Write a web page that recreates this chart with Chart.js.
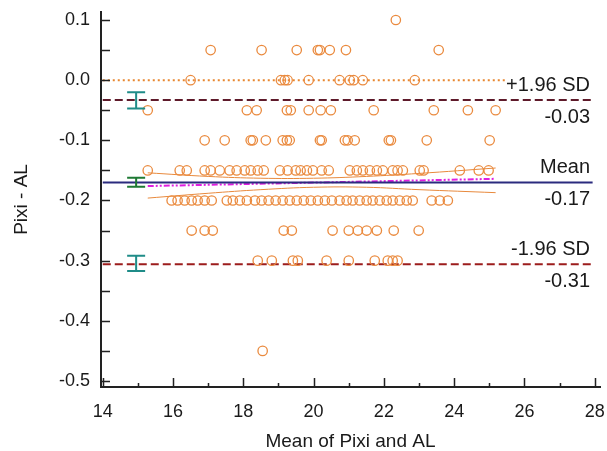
<!DOCTYPE html>
<html>
<head>
<meta charset="utf-8">
<script src="https://cdn.jsdelivr.net/npm/chart.js@4"></script>
<style>
  body { margin: 0; background: #fff; }
  #wrap { width: 607px; height: 451px; }
</style>
</head>
<body>
<div id="wrap"><canvas id="myChart" width="607" height="451"></canvas></div>
<script>
// Bland-Altman : Pixi vs AL

// differences (Pixi - AL) are on fixed steps, means listed per step
const diffLevels = [0.1, 0.05, 0, -0.05, -0.1, -0.15, -0.2, -0.25, -0.3, -0.45];
const meansP010 = [22.34];
const meansP005 = [17.07, 18.52, 19.52, 20.12, 20.18, 20.46, 20.92, 23.56];
const means000 = [16.5, 19.07, 19.18, 19.26, 19.86, 20.74, 21.03, 21.14, 21.4, 22.88];
const meansM005 = [15.28, 18.1, 18.38, 19.24, 19.35, 19.86, 20.2, 20.49, 21.71, 23.42, 24.39, 25.18];
const meansM010 = [16.9, 17.47, 18.21, 18.27, 18.64, 19.12, 19.24, 19.32, 20.18, 20.23, 20.89, 20.97, 21.17, 22.14, 22.2, 23.22, 25.01];
const meansM015 = [15.28, 16.19, 16.39, 16.9, 17.07, 17.33, 17.61, 17.81, 18.04, 18.21, 18.41, 18.58, 19.04, 19.26, 19.49, 19.63, 19.81, 19.98, 20.23, 20.43, 21.03, 21.23, 21.4, 21.6, 21.8, 21.97, 22.25, 22.39, 22.54, 23.02, 23.13, 24.16, 24.7, 24.98];
const meansM020 = [15.96, 16.13, 16.33, 16.53, 16.7, 16.9, 17.1, 17.53, 17.7, 17.9, 18.1, 18.33, 18.52, 18.72, 18.92, 19.12, 19.32, 19.52, 19.72, 19.92, 20.12, 20.32, 20.52, 20.74, 20.94, 21.11, 21.31, 21.51, 21.68, 21.88, 22.08, 22.25, 22.45, 22.65, 22.82, 23.36, 23.59, 23.82];
const meansM025 = [16.53, 16.9, 17.13, 19.15, 19.38, 20.54, 21.0, 21.26, 21.51, 21.8, 22.28, 22.99];
const meansM030 = [18.41, 18.81, 19.41, 19.55, 20.37, 21.0, 21.74, 22.11, 22.25, 22.39];
const meansM045 = [18.55];
const meansByLevel = [meansP010, meansP005, means000, meansM005, meansM010, meansM015, meansM020, meansM025, meansM030, meansM045];

// limits of agreement
const meanDiff = -0.17;
const upperLoA = -0.033;
const lowerLoA = -0.306;
const linesX = [14, 27.94];
const zeroLineX = [14, 25.5];

// confidence intervals of the limits (drawn at x = ciX)
const ciX = 14.95;
const ciLow = [-0.047, -0.177, -0.317];
const ciHigh = [-0.02, -0.162, -0.292];

// regression of differences + its confidence band
const regX = [15.28, 25.18];
const regY = [-0.176, -0.164];
const bandX = [15.28, 17, 18.5, 20, 21.5, 23, 25.18];
const bandUpper = [-0.154, -0.16, -0.163, -0.163, -0.16, -0.155, -0.146];
const bandLower = [-0.196, -0.188, -0.182, -0.178, -0.178, -0.182, -0.187];

// ticks
const xTicks = [14, 16, 18, 20, 22, 24, 26, 28];
const yTicks = [-0.5, -0.4, -0.3, -0.2, -0.1, 0.0, 0.1];

const points = [];
diffLevels.forEach((d, i) => {
  meansByLevel[i].forEach((m) => points.push({ x: m, y: d }));
});

const pair = (xs, ys) => xs.map((x, i) => ({ x: x, y: ys[i] }));

const lineDs = (label, xs, ys, color, dash, width) => ({
  label: label,
  data: pair(xs, ys),
  showLine: true,
  borderColor: color,
  borderWidth: width,
  borderDash: dash,
  pointRadius: 0,
  fill: false,
});

// error bars, side labels and inward tick marks
const extras = {
  id: "extras",
  afterDatasetsDraw(chart) {
    const ctx = chart.ctx;
    const xs = chart.scales.x;
    const ys = chart.scales.y;
    const area = chart.chartArea;
    ctx.save();

    const ciColors = ["#1f8c88", "#1f7a34", "#1f8c88"];
    const cx = xs.getPixelForValue(ciX);
    ciLow.forEach((lo, i) => {
      const y1 = ys.getPixelForValue(lo);
      const y2 = ys.getPixelForValue(ciHigh[i]);
      ctx.strokeStyle = ciColors[i];
      ctx.lineWidth = 2;
      ctx.beginPath();
      ctx.moveTo(cx, y1);
      ctx.lineTo(cx, y2);
      ctx.moveTo(cx - 9, y1);
      ctx.lineTo(cx + 9, y1);
      ctx.moveTo(cx - 9, y2);
      ctx.lineTo(cx + 9, y2);
      ctx.stroke();
    });

    ctx.fillStyle = "#1a1a1a";
    ctx.font = "20px 'Liberation Sans', Arial, sans-serif";
    ctx.textAlign = "right";
    ctx.textBaseline = "middle";
    const tx = area.right - 10;
    const labels = [
      ["+1.96 SD", upperLoA],
      ["Mean", meanDiff],
      ["-1.96 SD", lowerLoA],
    ];
    labels.forEach(([txt, v]) => {
      const py = ys.getPixelForValue(v);
      ctx.fillText(txt, tx, py - 15);
      ctx.fillText(v.toFixed(2), tx, py + 17);
    });

    ctx.strokeStyle = "#222";
    ctx.lineWidth = 1.5;
    ctx.beginPath();
    for (let v = -0.5; v <= 0.1001; v += 0.05) {
      const py = Math.round(ys.getPixelForValue(v)) + 0.5;
      ctx.moveTo(area.left, py);
      ctx.lineTo(area.left + 9, py);
    }
    for (let v = 14; v <= 28; v += 1) {
      const px = Math.round(xs.getPixelForValue(v)) + 0.5;
      const len = v % 2 === 0 ? 9 : 4;
      ctx.moveTo(px, area.bottom);
      ctx.lineTo(px, area.bottom - len);
    }
    ctx.stroke();
    ctx.restore();
  },
};

const config = {
  type: "scatter",
  data: {
    datasets: [
      {
        label: "differences",
        data: points,
        pointStyle: "circle",
        pointRadius: 4.7,
        pointBorderWidth: 1.3,
        pointBorderColor: "#ea8a3e",
        pointBackgroundColor: "rgba(0,0,0,0)",
        showLine: false,
      },
      lineDs("zero", zeroLineX, [0, 0], "#e8862e", [2, 3], 2),
      lineDs("+1.96 SD", linesX, [upperLoA, upperLoA], "#5e1a2a", [8, 4], 2),
      lineDs("mean", linesX, [meanDiff, meanDiff], "#2b2b7e", [], 2),
      lineDs("-1.96 SD", linesX, [lowerLoA, lowerLoA], "#9c1c1c", [8, 4], 2),
      lineDs("regression", regX, regY, "#e01fe0", [6, 2, 2, 2, 2, 2], 2),
      Object.assign(lineDs("band up", bandX, bandUpper, "#e8893c", [], 1), { tension: 0.4 }),
      Object.assign(lineDs("band low", bandX, bandLower, "#e8893c", [], 1), { tension: 0.4 }),
    ],
  },
  options: {
    responsive: false,
    animation: false,
    devicePixelRatio: 1,
    layout: { padding: { top: 12, right: 7, left: 0, bottom: 0 } },
    plugins: {
      legend: { display: false },
      tooltip: { enabled: false },
    },
    scales: {
      x: {
        type: "linear",
        min: 13.95,
        max: 28.15,
        afterBuildTicks: (s) => { s.ticks = xTicks.map((v) => ({ value: v })); },
        afterFit: (s) => {
          s.height = 64;
          s.paddingLeft = 0;
          s.paddingRight = 0;
        },
        grid: { display: false, drawTicks: false },
        border: { display: true, color: "#222", width: 2 },
        ticks: {
          padding: 14,
          color: "#1a1a1a",
          font: { family: "'Liberation Sans', Arial", size: 18 },
          callback: (v) => String(v),
        },
        title: {
          display: true,
          text: "Mean of Pixi and AL",
          color: "#1a1a1a",
          font: { family: "'Liberation Sans', Arial", size: 19, lineHeight: 1 },
          padding: { top: 0, bottom: 0 },
        },
      },
      y: {
        type: "linear",
        min: -0.51,
        max: 0.1133,
        afterBuildTicks: (s) => { s.ticks = yTicks.map((v) => ({ value: v })); },
        afterFit: (s) => {
          s.width = 101;
          s.paddingTop = 0;
          s.paddingBottom = 0;
        },
        grid: { display: false, drawTicks: false },
        border: { display: true, color: "#222", width: 2 },
        ticks: {
          padding: 11,
          color: "#1a1a1a",
          font: { family: "'Liberation Sans', Arial", size: 18 },
          callback: (v) => Number(v).toFixed(1),
        },
        title: {
          display: true,
          text: "Pixi - AL",
          color: "#1a1a1a",
          font: { family: "'Liberation Sans', Arial", size: 19, lineHeight: 1 },
          padding: { top: 12, bottom: 0 },
        },
      },
    },
  },
  plugins: [extras],
};

const myChart = new Chart(document.getElementById("myChart"), config);
</script>
</body>
</html>
